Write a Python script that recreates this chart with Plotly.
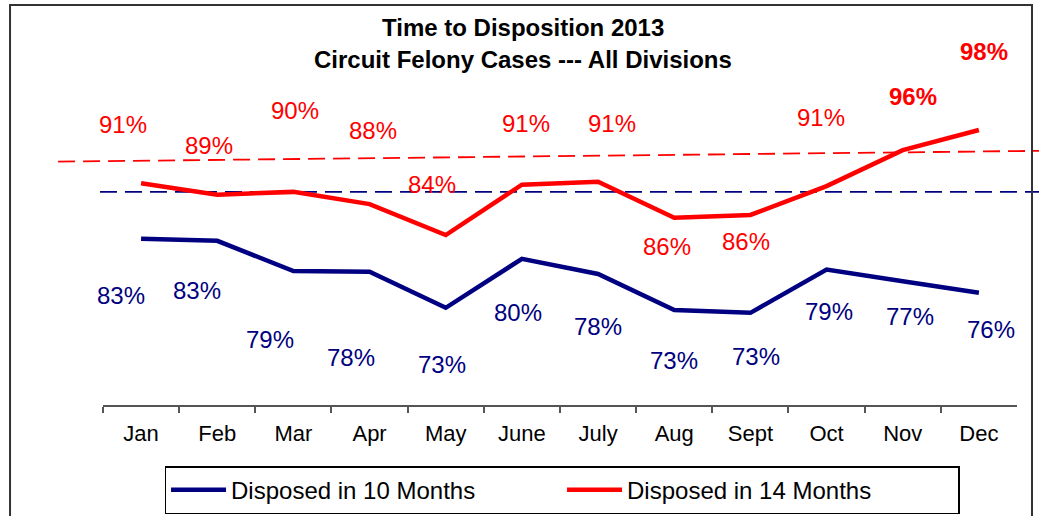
import plotly.graph_objects as go

months = ["Jan", "Feb", "Mar", "Apr", "May", "June", "July", "Aug", "Sept", "Oct", "Nov", "Dec"]
disposed_10 = [83.1, 82.8, 78.6, 78.5, 73.5, 80.3, 78.2, 73.2, 72.8, 78.8, 77.2, 75.6]
disposed_14 = [90.8, 89.2, 89.6, 87.9, 83.6, 90.6, 91.0, 86.0, 86.4, 90.4, 95.4, 98.2]
labels_10 = ["83%", "83%", "79%", "78%", "73%", "80%", "78%", "73%", "73%", "79%", "77%", "76%"]
labels_14 = ["91%", "89%", "90%", "88%", "84%", "91%", "91%", "86%", "86%", "91%", "96%", "98%"]
# dashed reference lines (x in month-index units)
ref14_x = [-1.09, 11.79]
ref14_y = [93.8, 95.3]
ref10_x = [-0.54, 11.79]
ref10_y = [89.6, 89.6]

# label offsets in pixels (style only)
off10 = [(-20, -57), (-20, -50), (-23, -68), (-19, -86), (-4, -57), (-4, -54),
         (0, -53), (0, -51), (6, -44), (2, -42), (7, -35), (12, -37)]
off14 = [(-18, 59), (-8, 49), (2, 81), (3, 74), (-14, 51), (4, 61),
         (14, 58), (-7, -29), (-4, -27), (-6, 69), (10, 54), (5, 78)]
bold14 = [False] * 10 + [True, True]

NAVY = "#000080"
RED = "#FF0000"
FONT = "Liberation Sans, Arial, sans-serif"

fig = go.Figure()
fig.add_trace(go.Scatter(x=ref14_x, y=ref14_y, xaxis="x", yaxis="y", mode="lines",
                         line=dict(color=RED, width=1.8, dash="17px,8px"),
                         showlegend=False, hoverinfo="skip"))
fig.add_trace(go.Scatter(x=ref10_x, y=ref10_y, xaxis="x", yaxis="y", mode="lines",
                         line=dict(color=NAVY, width=1.8, dash="17px,8px"),
                         showlegend=False, hoverinfo="skip"))
fig.add_trace(go.Scatter(x=months, y=disposed_10, xaxis="x2", yaxis="y", mode="lines",
                         name="Disposed in 10 Months", line=dict(color=NAVY, width=4.5)))
fig.add_trace(go.Scatter(x=months, y=disposed_14, xaxis="x2", yaxis="y", mode="lines",
                         name="Disposed in 14 Months", line=dict(color=RED, width=4.5)))

ann = []
for m, v, t, (dx, dy) in zip(months, disposed_10, labels_10, off10):
    ann.append(dict(x=m, y=v, xref="x2", yref="y", text=t, showarrow=False,
                    xanchor="center", yanchor="middle",
                    xshift=dx, yshift=dy, font=dict(family=FONT, size=24, color=NAVY)))
for m, v, t, (dx, dy), b in zip(months, disposed_14, labels_14, off14, bold14):
    ann.append(dict(x=m, y=v, xref="x2", yref="y", text=(f"<b>{t}</b>" if b else t),
                    showarrow=False, xanchor="center", yanchor="middle",
                    xshift=dx, yshift=dy,
                    font=dict(family=FONT, size=24, color=RED)))
ann.append(dict(x=0.474, y=1.3125, xref="paper", yref="paper", text="<b>Time to Disposition 2013</b>",
                showarrow=False, xanchor="center", yanchor="middle",
                font=dict(family=FONT, size=24, color="black")))
ann.append(dict(x=0.474, y=1.198, xref="paper", yref="paper",
                text="<b>Circuit Felony Cases --- All Divisions</b>",
                showarrow=False, xanchor="center", yanchor="middle",
                font=dict(family=FONT, size=24, color="black")))

fig.update_layout(
    width=1039, height=516,
    margin=dict(l=58, r=0, t=117, b=111, autoexpand=False),
    paper_bgcolor="white", plot_bgcolor="rgba(0,0,0,0)",
    font=dict(family=FONT, size=22, color="black"),
    xaxis=dict(domain=[0, 1], range=[-1.091, 11.789], visible=False, fixedrange=True),
    xaxis2=dict(domain=[0.04587, 0.97757], anchor="y", type="category",
                categoryorder="array", categoryarray=months, range=[-0.5, 11.5],
                showline=True, linecolor="#555555", linewidth=1.5,
                ticks="outside", ticklen=6, tickcolor="#555555", tickwidth=1.5,
                tickson="boundaries", showgrid=False, zeroline=False,
                tickfont=dict(family=FONT, size=22, color="black"),
                ticklabelstandoff=8, automargin=False, fixedrange=True),
    yaxis=dict(range=[60, 100], visible=False, showgrid=False, zeroline=False, fixedrange=True),
    showlegend=True,
    legend=dict(orientation="h", x=0.5138, xanchor="center", y=-0.212, yanchor="top",
                bordercolor="black", borderwidth=1.5, bgcolor="white",
                font=dict(family=FONT, size=24, color="black"),
                itemwidth=55, entrywidth=326, tracegroupgap=0),
    annotations=ann,
    shapes=[dict(type="rect", xref="paper", yref="paper", x0=-0.0489, x1=0.99286,
                 y0=-0.5, y1=1.3889, line=dict(color="#333333", width=2),
                 fillcolor="rgba(0,0,0,0)", layer="above")],
)

fig.write_html("out.html", config={"displayModeBar": False},
               post_script="document.body.style.margin='0';")
